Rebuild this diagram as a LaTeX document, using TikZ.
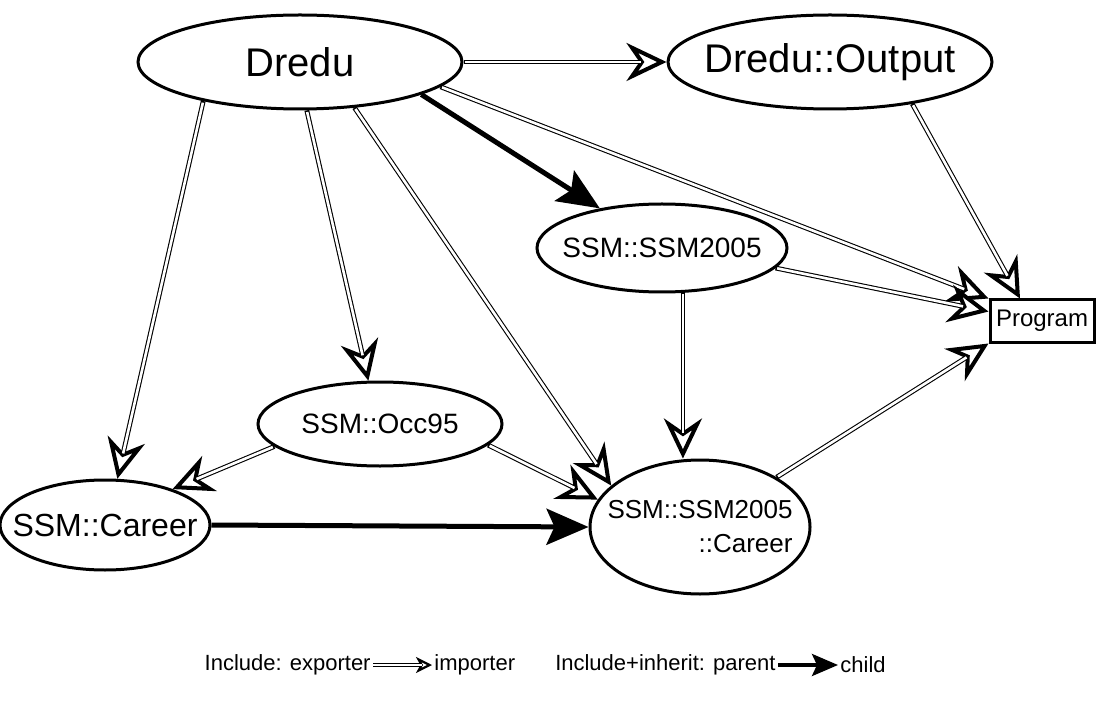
\documentclass[tikz,border=0pt]{standalone}
\usepackage{fontspec}
\setmainfont{Liberation Sans}
\usetikzlibrary{arrows.meta,shapes.geometric}

\begin{document}
\begin{tikzpicture}[x=0.5pt,y=-0.5pt,
  modul/.style={draw,ellipse,line width=1.5pt,inner sep=0pt,font=\fontsize{14}{17}\selectfont},
  include/.style={line width=2.4pt,
    -{Stealth[open,fill=white,length=20pt,width=19pt,inset=6.5pt,line width=2pt]},
    postaction={draw=white,line width=1.3pt,-,shorten <=0.8pt,shorten >=13pt}},
  inherit/.style={line width=2.5pt,-{Stealth[length=21pt,width=18pt,inset=4pt]}},
  legend/.style={font=\fontsize{11}{13}\selectfont,inner sep=1pt}]
\useasboundingbox (0,0) rectangle (1096,705);

% modules
\node[modul,minimum width=162pt,minimum height=47pt,font=\fontsize{20}{24}\selectfont] (dredu) at (300,62) {Dredu};
\node[modul,minimum width=162pt,minimum height=47pt,inner xsep=-8pt,font=\fontsize{20}{24}\selectfont] (output) at (830,62) {Dredu::Output};
\node[modul,minimum width=125pt,minimum height=44pt,inner xsep=-10pt] (ssm2005) at (662,248) {SSM::SSM2005};
\node[modul,minimum width=122pt,minimum height=42pt] (occ95) at (380,424) {SSM::Occ95};
\node[modul,minimum width=105pt,minimum height=45pt,inner xsep=-14pt,font=\fontsize{16}{19}\selectfont] (career) at (105,525) {SSM::Career};
\node[modul,minimum width=110pt,minimum height=67pt,inner xsep=-14pt,align=right,font=\fontsize{13}{17}\selectfont] (career2) at (700,527) {SSM::SSM2005\\::Career};
% program box
\node[draw,line width=1.5pt,minimum width=52pt,minimum height=21pt,inner sep=1pt,font=\fontsize{12}{14}\selectfont] (program) at (1042,321) {Program};

% include: exporter => importer
\draw[include] (dredu.east) -- (output.west);
\draw[include] (dredu.-10) -- (program.north west);
\draw[include] (output.-27) -- ([xshift=-11pt]program.north);
\draw[include] (ssm2005.-10) -- (program.170);
\draw[include] (ssm2005.-65) -- (ssm2005.-65 |- career2.north);
\draw[include] (dredu.202) -- (career.75);
\draw[include] (dredu.-82) -- (occ95.105);
\draw[include] (dredu.-40) -- (career2.155);
\draw[include] (occ95.192) -- (career.28);
\draw[include] (occ95.-11) -- (career2.165);
\draw[include] (career2.33) -- (program.south west);

% include+inherit: parent -> child
\draw[inherit] (dredu.-15) -- (ssm2005);
\draw[inherit] (career.east) -- (career2.west);

% legend
\node[legend,anchor=east] (lgexp) at (373,665) {Include: exporter};
\node[legend,anchor=west] (lgimp) at (432,665) {importer};
\draw[line width=1.6pt,-{Stealth[open,fill=white,length=8pt,width=8pt,inset=2.2pt,line width=1.1pt]},
  postaction={draw=white,line width=0.8pt,-,shorten >=5pt}] (lgexp.east) -- (lgimp.west);
\node[legend,anchor=east] (lgpar) at (778,665) {Include+inherit: parent};
\node[legend,anchor=west] (lgchd) at (838,665) {child};
\draw[line width=1.8pt,-{Stealth[length=13pt,width=11pt,inset=2.5pt]}] (lgpar.east) -- (lgchd.west);
\end{tikzpicture}
\end{document}
